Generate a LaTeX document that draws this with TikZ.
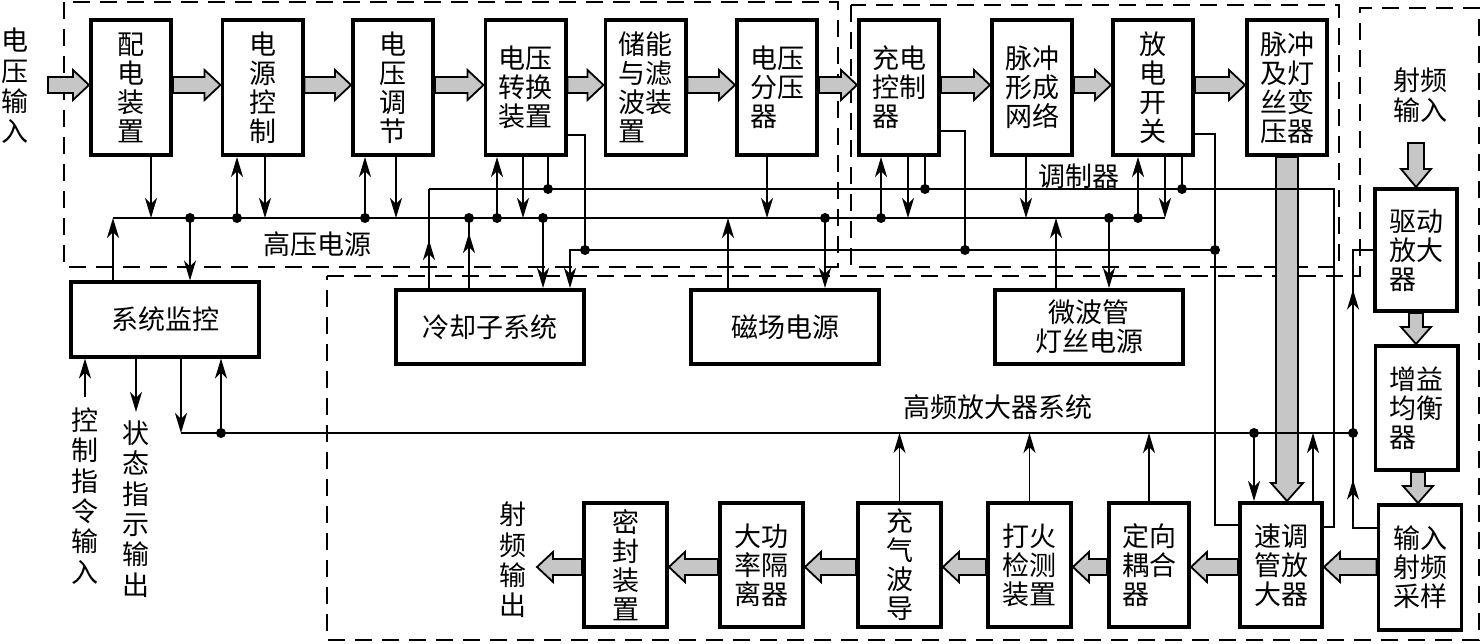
\documentclass[tikz,border=0pt]{standalone}
\usepackage{fontspec}
\newfontfamily\cjk{Noto Sans CJK SC}
\usetikzlibrary{arrows.meta,calc,decorations.markings}
\newcommand\boxfont{\cjk\fontsize{27pt}{29pt}\selectfont}
\newcommand\vfont{\cjk\fontsize{27pt}{30.4pt}\selectfont}
% fat grey arrow: #1 from, #2 to, #3 shaft half width, #4 head half width, #5 head length
\newcommand\FatArr[5]{%
  \coordinate (fa) at (#1);
  \coordinate (fb) at (#2);
  \coordinate (fn) at ($(fb)!#5!(fa)$);
  \draw[garrow] ($(fa)!#3!90:(fb)$) -- ($(fn)!#3!90:(fb)$) -- ($(fn)!#4!90:(fb)$) -- (fb)
     -- ($(fn)!#4!-90:(fb)$) -- ($(fn)!#3!-90:(fb)$) -- ($(fa)!#3!-90:(fb)$) -- cycle;}
\begin{document}
\begin{tikzpicture}[x=1pt,y=-1pt,
  box/.style={draw, line width=3.8pt, fill=white, inner sep=0pt, align=center, font=\boxfont},
  tb/.style={box, minimum width=80.2pt, minimum height=135.2pt},
  wb/.style={box, minimum width=188.2pt, minimum height=74.2pt},
  rb/.style={box, minimum width=82.2pt, minimum height=122.2pt, align=left},
  bb/.style={box, minimum width=83pt, minimum height=124.2pt},
  ln/.style={line width=1.9pt},
  arr/.style={ln, -{Stealth[length=20pt,width=12pt,inset=6pt]}},
  midup/.style={postaction={decorate,decoration={markings,mark=at position #1 with {\arrow{Stealth[length=20pt,width=12pt,inset=6pt]}}}}},
  bound/.style={line width=1.8pt, dash pattern=on 17pt off 10pt},
  garrow/.style={draw, line width=1.8pt, fill=gray!45, line join=miter},
  lab/.style={font=\boxfont, inner sep=0pt, align=center},
  vlab/.style={font=\vfont, inner sep=0pt, align=center},
  jdot/.style={fill=black}
]
\useasboundingbox (0,0) rectangle (1483,644);

% dashed regions
\draw[bound] (64,2) rectangle (838,267);
\draw[bound] (851,5) rectangle (1339,267);
\draw[bound] (327,276) -- (1360,276) -- (1360,8) -- (1479,8) -- (1479,640) -- (327,640) -- cycle;

% bus coordinates
\coordinate (A0) at (113,218);  \coordinate (A1) at (1165,218);
\coordinate (B0) at (429,189);  \coordinate (B1) at (1334,189);
\coordinate (C0) at (570,250);  \coordinate (C1) at (1215,250);
\coordinate (H0) at (181,433);  \coordinate (H1) at (1353,433);
\coordinate (ctlTop) at (85,397);
\coordinate (stEnd) at (136,412);
\coordinate (rfTail) at (1416,143);
\coordinate (vinTail) at (48,85);
\coordinate (outTip) at (537,567);

% top row boxes
\node[tb] (b1) at (131,87.5) {配\\电\\装\\置};
\node[tb] (b2) at (262.5,87.5) {电\\源\\控\\制};
\node[tb] (b3) at (393,87.5) {电\\压\\调\\节};
\node[tb, align=left] (b4) at (525.5,87.5) {电压\\转换\\装置};
\node[tb, align=left] (b5) at (645.5,87.5) {储能\\与滤\\波装\\置};
\node[tb, align=left] (b6) at (777,87.5) {电压\\分压\\器};
\node[tb, align=left] (b7) at (899,87.5) {充电\\控制\\器};
\node[tb, align=left] (b8) at (1032,87.5) {脉冲\\形成\\网络};
\node[tb] (b9) at (1153,87.5) {放\\电\\开\\关};
\node[tb, align=left] (b10) at (1287,87.5) {脉冲\\及灯\\丝变\\压器};

% middle boxes
\node[wb] (mon) at (165,319.5) {系统监控};
\node[wb] (cool) at (490,327) {冷却子系统};
\node[wb] (mag) at (785,327) {磁场电源};
\node[wb] (fil) at (1089,327) {微波管\\灯丝电源};

% right column
\node[rb] (drv) at (1416,250) {驱动\\放大\\器};
\node[rb, minimum height=124.2pt] (gain) at (1416.5,408) {增益\\均衡\\器};
\node[bb, align=left, minimum height=125.2pt] (in) at (1420,567.5) {输入\\射频\\采样};

% bottom row
\node[bb] (seal) at (625.5,565) {密\\封\\装\\置};
\node[bb, align=left] (iso) at (761.5,565) {大功\\率隔\\离器};
\node[bb] (wg) at (899.5,565) {充\\气\\波\\导};
\node[bb, align=left] (fire) at (1029.5,565) {打火\\检测\\装置};
\node[bb, align=left, minimum width=80.2pt] (coup) at (1149,565) {定向\\耦合\\器};
\node[bb, align=left, minimum width=82.2pt] (kly) at (1281,565) {速调\\管放\\大器};

% labels
\node[vlab] (vin) at (15,86) {电\\压\\输\\入};
\node[lab, font=\cjk\fontsize{27pt}{30pt}\selectfont] (rfin) at (1420,95) {射频\\输入};
\node[vlab] (rfout) at (513,560) {射\\频\\输\\出};
\node[vlab] (ctl) at (85,496) {控\\制\\指\\令\\输\\入};
\node[vlab] (st) at (136,509) {状\\态\\指\\示\\输\\出};
\node[lab] (lhv) at (317,244) {高压电源};
\node[lab] (lmod) at (1079,176) {调制器};
\node[lab] (lhf) at (998,407) {高频放大器系统};

% fat grey arrows
\FatArr{vinTail}{b1.west |- 0,85}{8pt}{15pt}{16pt}
\FatArr{b1.east |- 0,85}{b2.west |- 0,85}{8pt}{15pt}{16pt}
\FatArr{b2.east |- 0,85}{b3.west |- 0,85}{8pt}{15pt}{16pt}
\FatArr{b3.east |- 0,85}{b4.west |- 0,85}{8pt}{15pt}{16pt}
\FatArr{b4.east |- 0,85}{b5.west |- 0,85}{8pt}{15pt}{16pt}
\FatArr{b5.east |- 0,85}{b6.west |- 0,85}{8pt}{15pt}{16pt}
\FatArr{b6.east |- 0,85}{b7.west |- 0,85}{8pt}{15pt}{16pt}
\FatArr{b7.east |- 0,85}{b8.west |- 0,85}{8pt}{15pt}{16pt}
\FatArr{b8.east |- 0,85}{b9.west |- 0,85}{8pt}{15pt}{16pt}
\FatArr{b9.east |- 0,85}{b10.west |- 0,85}{8pt}{15pt}{16pt}
\FatArr{b10.south}{b10.south |- kly.north}{11pt}{16pt}{18pt}
\FatArr{rfTail}{drv.north}{8pt}{15pt}{18pt}
\FatArr{drv.south}{drv.south |- gain.north}{7pt}{15pt}{17pt}
\FatArr{1418,0 |- gain.south}{1418,0 |- in.north}{7pt}{15pt}{17pt}
\FatArr{in.west |- 0,567}{kly.east |- 0,567}{8pt}{15pt}{16pt}
\FatArr{kly.west |- 0,567}{coup.east |- 0,567}{8pt}{15pt}{16pt}
\FatArr{coup.west |- 0,567}{fire.east |- 0,567}{8pt}{15pt}{16pt}
\FatArr{fire.west |- 0,567}{wg.east |- 0,567}{8pt}{15pt}{16pt}
\FatArr{wg.west |- 0,567}{iso.east |- 0,567}{8pt}{15pt}{16pt}
\FatArr{iso.west |- 0,567}{seal.east |- 0,567}{8pt}{15pt}{16pt}
\FatArr{seal.west |- 0,567}{outTip}{8pt}{15pt}{16pt}

% buses
\draw[ln] (A0) -- (A1);
\draw[ln] (B0) -- (B1) -- (1334,527) -- (kly.east |- 0,527);
\draw[arr] (C1) -- (C0) -- (570,0 |- cool.north);
\draw[ln] (H0) -- (H1);

% top row connections
\draw[arr] (151,0 |- b1.south) -- (151,0 |- A0);
\draw[arr] (237,0 |- A0) -- (237,0 |- b2.south);
\draw[arr] (265,0 |- b2.south) -- (265,0 |- A0);
\draw[arr] (365,0 |- A0) -- (365,0 |- b3.south);
\draw[arr] (396,0 |- b3.south) -- (396,0 |- A0);
\draw[arr] (497,0 |- A0) -- (497,0 |- b4.south);
\draw[arr] (523,0 |- b4.south) -- (523,0 |- A0);
\draw[ln] (548,0 |- b4.south) -- (548,0 |- B0);
\draw[ln] (b4.east |- 0,135) -- (585,135) -- (585,0 |- C0);
\draw[arr] (767,0 |- b6.south) -- (767,0 |- A0);
\draw[arr] (881,0 |- A0) -- (881,0 |- b7.south);
\draw[arr] (908,0 |- b7.south) -- (908,0 |- A0);
\draw[ln] (925,0 |- b7.south) -- (925,0 |- B0);
\draw[ln] (b7.east |- 0,131) -- (965,131) -- (965,0 |- C0);
\draw[arr] (1026,0 |- b8.south) -- (1026,0 |- A0);
\draw[arr] (1138,0 |- A0) -- (1138,0 |- b9.south);
\draw[arr] (1165,0 |- b9.south) -- (A1);
\draw[ln] (1182,0 |- b9.south) -- (1182,0 |- B0);
\draw[ln] (b9.east |- 0,134) -- (1215,134) -- (1215,525) -- (kly.west |- 0,525);

% monitor
\draw[arr] (113,0 |- mon.north) -- (A0);
\draw[arr] (190,0 |- A0) -- (190,0 |- mon.north);
\draw[arr] (ctlTop) -- (ctlTop |- mon.south);
\draw[arr] (stEnd |- mon.south) -- (stEnd);
\draw[arr] (181,0 |- mon.south) -- (H0);
\draw[arr] (221,0 |- H0) -- (221,0 |- mon.south);

% cooling
\draw[ln, midup=48pt] (429,0 |- cool.north) -- (B0);
\draw[ln, midup=55pt] (469,0 |- cool.north) -- (469,0 |- A0);
\draw[arr] (543,0 |- A0) -- (543,0 |- cool.north);

% magnet
\draw[arr] (728,0 |- mag.north) -- (728,0 |- A0);
\draw[arr] (825,0 |- A0) -- (825,0 |- mag.north);

% filament
\draw[arr] (1056,0 |- fil.north) -- (1056,0 |- A0);
\draw[arr] (1109,0 |- A0) -- (1109,0 |- fil.north);

% HF system
\draw[ln, midup=72pt, midup=262pt] (in.west |- 0,528) -- (1353,528) -- (1353,0 |- drv.west) -- (drv.west);
\draw[arr] (1254,0 |- H0) -- (1254,0 |- kly.north);
\draw[arr] (1313,0 |- kly.north) -- (1313,0 |- H0);
\draw[arr] (wg.north) -- (wg.north |- H0);
\draw[arr] (fire.north) -- (fire.north |- H0);
\draw[arr] (coup.north) -- (coup.north |- H0);

% junction dots
\foreach \p in {(190,218),(237,218),(365,218),(469,218),(497,218),(543,218),(825,218),(881,218),(1109,218),(1138,218),
                (548,189),(925,189),(1182,189),
                (585,250),(965,250),(1215,250),
                (221,433),(1254,433),(1353,433)}
  \fill[jdot] \p circle[radius=5pt];
\end{tikzpicture}
\end{document}
